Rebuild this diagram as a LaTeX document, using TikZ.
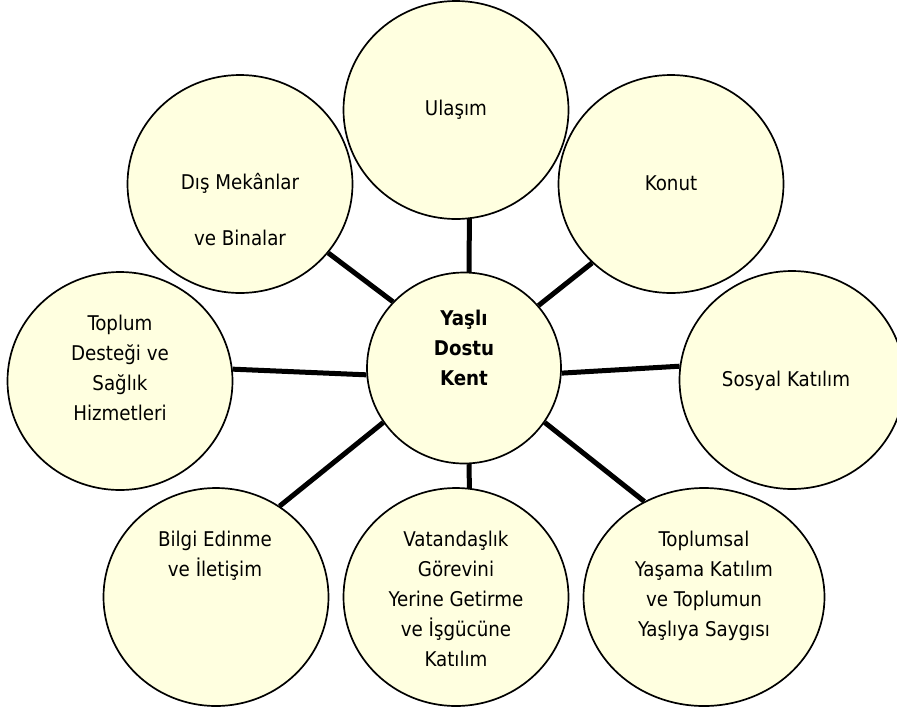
\documentclass[tikz,border=0pt]{standalone}
\usepackage{fontspec}
\setmainfont{DejaVu Sans Condensed}
\usetikzlibrary{shapes.geometric}
\definecolor{bubble}{HTML}{FFFFE0}
\newcommand{\tlines}[1]{\begin{tabular}[t]{@{}c@{}}#1\end{tabular}}
\begin{document}
\begin{tikzpicture}[x=1pt,y=-1pt,
  bub/.style={ellipse, draw=black, line width=1.7pt, fill=bubble, inner sep=0pt,
              minimum width=225pt, minimum height=218pt},
  lbl/.style={anchor=base, inner sep=0pt, font=\fontsize{20.3}{30}\selectfont},
  link/.style={line width=5pt}]
\useasboundingbox (0,0) rectangle (897,713);
% bubbles
\node[bub] (u) at (456,110) {};
\node[bub] (k) at (671,184) {};
\node[bub] (d) at (240,184) {};
\node[bub] (t) at (120,381) {};
\node[bub] (s) at (792,380) {};
\node[bub] (b) at (216,597) {};
\node[bub] (v) at (456,597) {};
\node[bub, minimum width=241pt] (tp) at (704,597) {};
\node[bub, minimum width=194pt, minimum height=191pt] (c) at (464,368) {};
% connectors
\draw[link] (c.87) -- (u.-83.2);
\draw[link] (c.40.9) -- (k.-135.4);
\draw[link] (c.137.1) -- (d.-38.1);
\draw[link] (c.184.2) -- (t.6.6);
\draw[link] (c.-3.6) -- (s.173.9);
\draw[link] (c.214.8) -- (b.55.7);
\draw[link] (c.-87) -- (v.83.2);
\draw[link] (c.-34.5) -- (tp.122);
% labels
\node[lbl] (lu) at (456,115) {\tlines{Ulaşım}};
\node[lbl] (lk) at (671,190) {\tlines{Konut}};
\node[lbl] (ld) at (240,189) {\tlines{Dış Mekânlar\\[26pt]ve Binalar}};
\node[lbl] (lt) at (120,330) {\tlines{Toplum\\Desteği ve\\Sağlık\\Hizmetleri}};
\node[lbl] (lc) at (464,325) {\tlines{\bfseries Yaşlı\\\bfseries Dostu\\\bfseries Kent}};
\node[lbl] (ls) at (786,386) {\tlines{Sosyal Katılım}};
\node[lbl] (lb) at (215,546) {\tlines{Bilgi Edinme\\ve İletişim}};
\node[lbl] (lv) at (456,546) {\tlines{Vatandaşlık\\Görevini\\Yerine Getirme\\ve İşgücüne\\Katılım}};
\node[lbl] (ltp) at (704,546) {\tlines{Toplumsal\\Yaşama Katılım\\ve Toplumun\\Yaşlıya Saygısı}};
\end{tikzpicture}
\end{document}
